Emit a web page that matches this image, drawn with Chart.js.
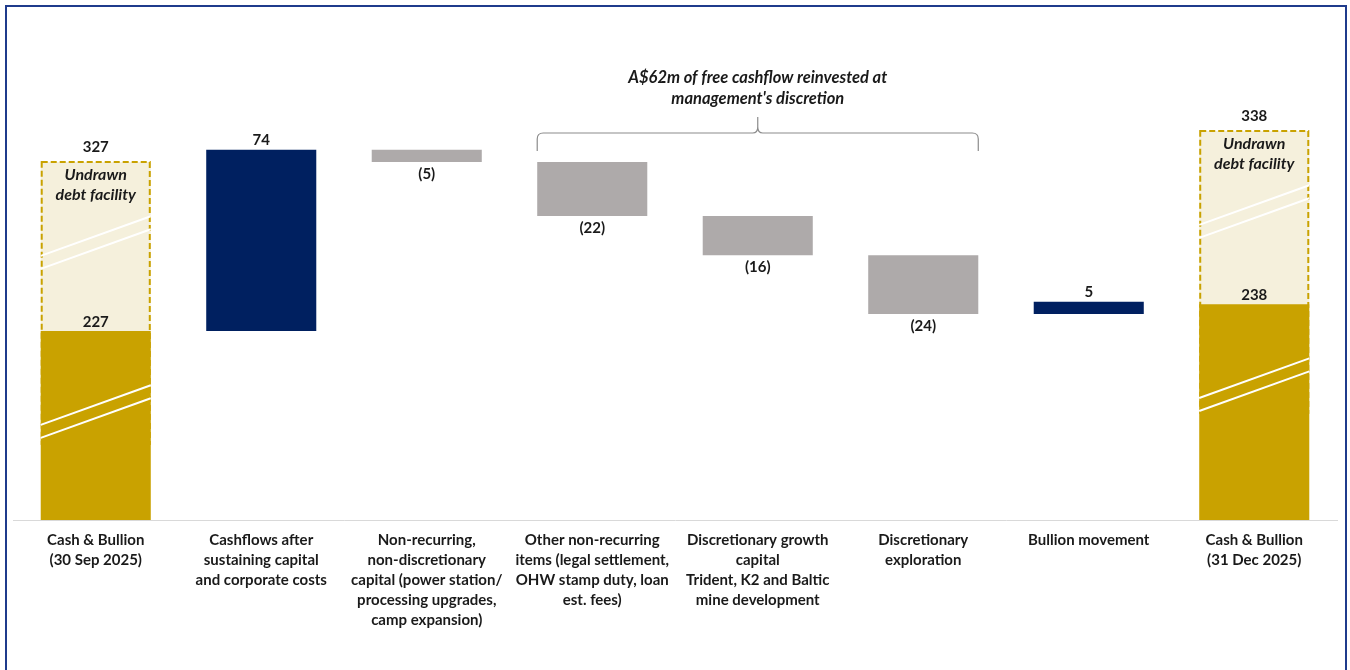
<!DOCTYPE html>
<html>
<head>
<meta charset="utf-8">
<script src="https://cdn.jsdelivr.net/npm/chart.js@4.4.0/dist/chart.umd.min.js"></script>
<style>
  html, body { margin: 0; padding: 0; background: #fff; }
  #wrap { position: relative; width: 1350px; height: 670px; overflow: hidden; }
  #frame { position: absolute; left: 5px; top: 5px; width: 1342px; height: 720px;
           border: 2px solid #1f3b8c; box-sizing: border-box; }
  #bridge { position: absolute; left: 0; top: 0; }
</style>
</head>
<body>
<div id="wrap">
  <div id="frame"></div>
  <canvas id="bridge" width="1350" height="670"></canvas>
</div>
<script>
const categories = [
  ["Cash & Bullion", "(30 Sep 2025)"],
  ["Cashflows after", "sustaining capital", "and corporate costs"],
  ["Non-recurring,", "non-discretionary", "capital (power station/", "processing upgrades,", "camp expansion)"],
  ["Other non-recurring", "items (legal settlement,", "OHW stamp duty, loan", "est. fees)"],
  ["Discretionary growth", "capital", "Trident, K2 and Baltic", "mine development"],
  ["Discretionary", "exploration"],
  ["Bullion movement"],
  ["Cash & Bullion", "(31 Dec 2025)"],
];
const openingCash = 227;
const closingCash = 238;
const movements = [74, -5, -22, -16, -24, 5]; // categories 1..6
const undrawnFacility = [100, 100];           // opening, closing
const facilityLabel = ["Undrawn", "debt facility"];
const braceText = ["A$62m of free cashflow reinvested at", "management's discretion"];
const braceFrom = 3, braceTo = 5;

const NAVY = "#002060", GOLD = "#C9A200", GREY = "#AEAAAA", CREAM = "#F5F0DC";
const TEXT = "#1a1a1a";
const FONT = "Lato";
const last = categories.length - 1;

// waterfall data built from the arrays above
const cashData = categories.map((c, i) => (i === 0 ? openingCash : i === last ? closingCash : null));
const facilityData = categories.map((c, i) =>
  i === 0 ? [openingCash, openingCash + undrawnFacility[0]]
  : i === last ? [closingCash, closingCash + undrawnFacility[1]] : null);
let running = openingCash;
const moveData = [null];
const moveColors = [NAVY];
movements.forEach((m) => {
  moveData.push([running, running + m]);
  moveColors.push(m >= 0 ? NAVY : GREY);
  running += m;
});
moveData.push(null);
moveColors.push(NAVY);

const fmt = (v) => (v < 0 ? "(" + Math.abs(v) + ")" : String(v));

// white double "axis break" strokes across a bar, measured from its visible top
function breakLines(ctx, el, top) {
  const l = el.x - el.width / 2, r = el.x + el.width / 2;
  const rise = el.width * 0.18;
  ctx.save();
  ctx.strokeStyle = "#fff";
  ctx.lineWidth = 2;
  [74, 87].forEach((off) => {
    const cy = top + off;
    ctx.beginPath();
    ctx.moveTo(l, cy + rise);
    ctx.lineTo(r, cy - rise);
    ctx.stroke();
  });
  ctx.restore();
}

const facilityBox = {
  id: "facilityBox",
  afterDatasetDraw(chart, args) {
    if (args.index !== 1) return;
    const ctx = chart.ctx;
    args.meta.data.forEach((el, i) => {
      if (facilityData[i] === null) return;
      const l = el.x - el.width / 2;
      ctx.save();
      ctx.setLineDash([6, 3]);
      ctx.strokeStyle = GOLD;
      ctx.lineWidth = 2;
      ctx.strokeRect(l + 1, el.y, el.width - 2, el.base - el.y);
      ctx.restore();
    });
  },
};

const annotations = {
  id: "annotations",
  afterDatasetsDraw(chart) {
    const ctx = chart.ctx;
    const cashMeta = chart.getDatasetMeta(0);
    const boxMeta = chart.getDatasetMeta(1);
    const moveMeta = chart.getDatasetMeta(2);
    ctx.save();
    ctx.fillStyle = TEXT;
    ctx.textAlign = "center";

    boxMeta.data.forEach((el, i) => {
      if (facilityData[i] === null) return;
      breakLines(ctx, el, el.y);
      ctx.font = "bold 15px " + FONT;
      ctx.textBaseline = "alphabetic";
      ctx.fillText(fmt(facilityData[i][1]), el.x, el.y - 10);
      ctx.font = "italic bold 16px " + FONT;
      ctx.textBaseline = "middle";
      ctx.fillText(facilityLabel[0], el.x, el.y + 13);
      ctx.fillText(facilityLabel[1], el.x, el.y + 33);
    });

    cashMeta.data.forEach((el, i) => {
      if (cashData[i] === null) return;
      breakLines(ctx, el, el.y);
      ctx.font = "bold 15px " + FONT;
      ctx.textBaseline = "alphabetic";
      ctx.fillText(fmt(cashData[i]), el.x, el.y - 4);
    });

    moveMeta.data.forEach((el, i) => {
      if (moveData[i] === null) return;
      const v = moveData[i][1] - moveData[i][0];
      ctx.font = "bold 15px " + FONT;
      ctx.textBaseline = "alphabetic";
      if (v >= 0) ctx.fillText(fmt(v), el.x, Math.min(el.y, el.base) - 5);
      else ctx.fillText(fmt(v), el.x, Math.max(el.y, el.base) + 17);
    });

    // curly brace over the discretionary items
    const a = moveMeta.data[braceFrom], b = moveMeta.data[braceTo];
    const left = a.x - a.width / 2, right = b.x + b.width / 2;
    const cx = (left + right) / 2;
    const top = Math.min(a.y, a.base);
    const yEnd = top - 11, yMid = top - 29, yTip = top - 45;
    ctx.strokeStyle = "#8c8c8c";
    ctx.lineWidth = 1.2;
    ctx.beginPath();
    ctx.moveTo(left, yEnd);
    ctx.lineTo(left, yMid + 6);
    ctx.quadraticCurveTo(left, yMid, left + 6, yMid);
    ctx.lineTo(cx - 5, yMid);
    ctx.quadraticCurveTo(cx, yMid, cx, yMid - 6);
    ctx.lineTo(cx, yTip);
    ctx.moveTo(cx, yMid - 6);
    ctx.quadraticCurveTo(cx, yMid, cx + 5, yMid);
    ctx.lineTo(right - 6, yMid);
    ctx.quadraticCurveTo(right, yMid, right, yMid + 6);
    ctx.lineTo(right, yEnd);
    ctx.stroke();

    ctx.font = "italic bold 16.5px " + FONT;
    ctx.textBaseline = "middle";
    ctx.fillText(braceText[0], cx, top - 84);
    ctx.fillText(braceText[1], cx, top - 63);
    ctx.restore();
  },
};

const ctx = document.getElementById("bridge").getContext("2d");
new Chart(ctx, {
  type: "bar",
  data: {
    labels: categories,
    datasets: [
      { label: "Cash & Bullion", data: cashData, backgroundColor: GOLD, yAxisID: "y", order: 1 },
      { label: "Undrawn debt facility", data: facilityData, backgroundColor: CREAM, yAxisID: "y2", order: 3 },
      { label: "Movements", data: moveData, backgroundColor: moveColors, yAxisID: "y", order: 2 },
    ],
  },
  options: {
    responsive: false,
    animation: false,
    layout: { padding: { left: 13, right: 13, top: 40, bottom: 10 } },
    datasets: { bar: { grouped: false, barPercentage: 0.665, categoryPercentage: 1, borderWidth: 0 } },
    scales: {
      x: {
        grid: { display: false, drawTicks: false },
        border: { color: "#d9d9d9", width: 1 },
        ticks: {
          color: TEXT,
          padding: 10,
          autoSkip: false,
          maxRotation: 0,
          font: { family: FONT, weight: "bold", size: 15, lineHeight: 20 / 15 },
        },
        afterFit: (s) => { s.height = 140; },
      },
      // broken axis: cash bars start from the axis floor
      y: { display: false, min: 149.9, max: 345.8 },
      y2: { display: false, min: 200, max: 370.3 },
    },
    plugins: { legend: { display: false }, tooltip: { enabled: false } },
  },
  plugins: [facilityBox, annotations],
});
</script>
</body>
</html>
